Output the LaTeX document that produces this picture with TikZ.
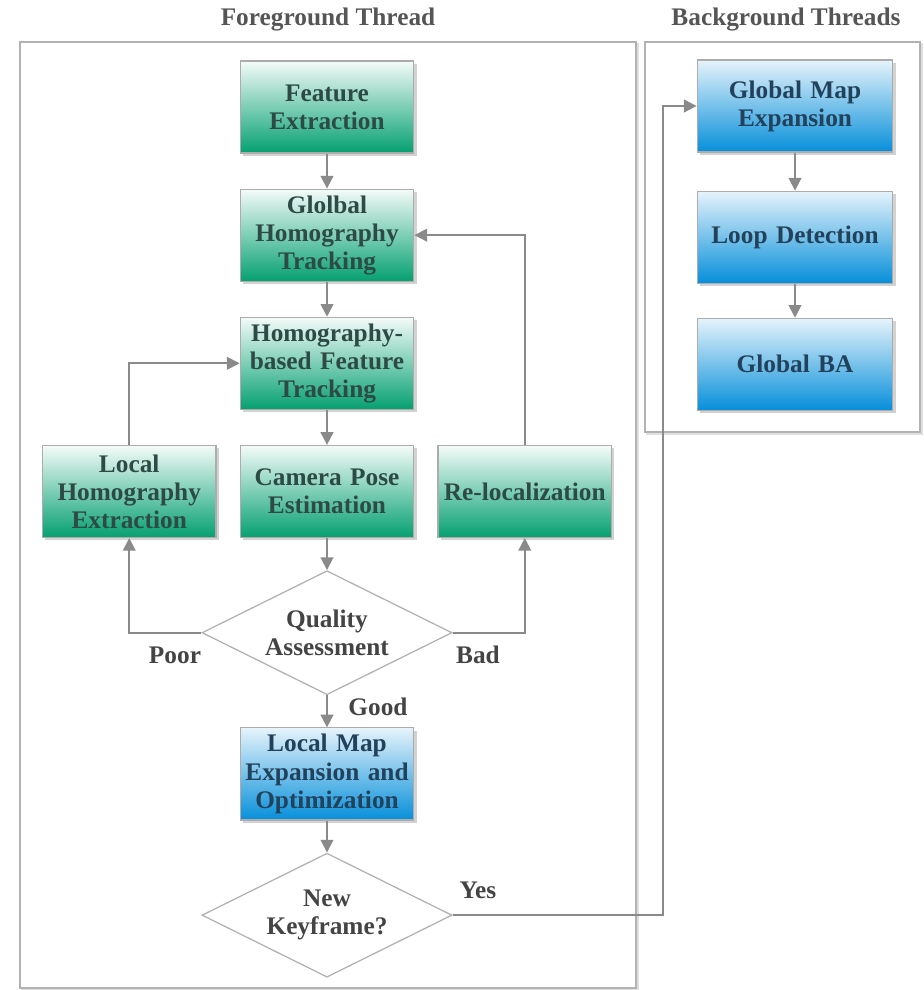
\documentclass[tikz,border=0pt]{standalone}
\usepackage{fontspec}
\setmainfont{Liberation Serif}
\usepackage{tikz}
\usetikzlibrary{positioning}
\usetikzlibrary{shapes.geometric}
\usetikzlibrary{arrows.meta}
\usetikzlibrary{shadows}

\definecolor{greentop}{HTML}{F4FBF9}
\definecolor{greenmid}{HTML}{5EC3A0}
\definecolor{greenbot}{HTML}{04A070}
\definecolor{greentext}{HTML}{2E4A45}
\definecolor{bluetop}{HTML}{E6F3FB}
\definecolor{bluemid}{HTML}{62BCEA}
\definecolor{bluebot}{HTML}{068FDA}
\definecolor{bluetext}{HTML}{22415A}
\definecolor{linegray}{HTML}{8A8A8A}
\definecolor{titlegray}{HTML}{555555}

\tikzset{
  stage/.style={draw=gray!65, line width=0.8pt, align=center,
    minimum height=2.3cm, inner xsep=0.12cm,
    font=\bfseries\fontsize{18}{20}\selectfont,
    drop shadow={opacity=0.35, shadow xshift=2pt, shadow yshift=-2pt}},
  greenbox/.style={stage, text width=4.1cm, top color=greentop,
    middle color=greenmid, bottom color=greenbot, text=greentext},
  bluebox/.style={stage, text width=4.1cm, top color=bluetop,
    middle color=bluemid, bottom color=bluebot, text=bluetext},
  check/.style={diamond, aspect=2, draw=gray!60, line width=0.9pt, fill=white,
    minimum width=6.25cm, minimum height=3.1cm, inner sep=0pt, align=center,
    text=titlegray!80!black, font=\bfseries\fontsize{18}{20}\selectfont},
  flow/.style={draw=linegray, line width=1.3pt, -{Triangle[width=9pt,length=9pt]}},
  tag/.style={text=titlegray!80!black, font=\bfseries\fontsize{18}{20}\selectfont},
  frame/.style={draw=gray!60, line width=1.1pt},
}

\begin{document}
\begin{tikzpicture}[x=0.025cm, y=-0.025cm]
\useasboundingbox (0,0) rectangle (924,990);
% thread frames
\draw[gray!25, line width=1.1pt] (22,44) rectangle (638,990);
\draw[frame, fill=white] (20,42) rectangle (636,988);
\draw[gray!25, line width=1.1pt] (647,44) rectangle (922,434);
\draw[frame, fill=white] (645,42) rectangle (920,432);
\node[tag, text=titlegray] (fgtitle) at (328,20) {Foreground Thread};
\node[tag, text=titlegray] (bgtitle) at (786,20) {Background Threads};
% foreground column
\node[greenbox] (feat) at (327,107) {Feature\\Extraction};
\node[greenbox, below=0.875cm of feat] (glob) {Glolbal\\Homography\\Tracking};
\node[greenbox, below=0.875cm of glob] (hfeat) {Homography-\\based Feature\\Tracking};
\node[greenbox, below=0.875cm of hfeat] (cam) {Camera Pose\\Estimation};
\node[greenbox, left=0.575cm of cam] (local) {Local\\Homography\\Extraction};
\node[greenbox, right=0.575cm of cam] (reloc) {Re-localization};
\node[check, below=0.8cm of cam] (qa) {Quality\\Assessment};
\node[bluebox, below=0.8cm of qa] (lmap) {Local Map\\Expansion and\\Optimization};
\node[check, below=0.8cm of lmap] (kf) {New\\Keyframe?};
% background column
\node[bluebox, text width=4.65cm] (gme) at (795,106) {Global Map\\Expansion};
\node[bluebox, text width=4.65cm, below=0.95cm of gme] (loop) {Loop Detection};
\node[bluebox, text width=4.65cm, below=0.85cm of loop] (gba) {Global BA};
% labels
\node[tag] (poor) at (175,655) {Poor};
\node[tag] (bad) at (478,655) {Bad};
\node[tag] (good) at (378,707) {Good};
\node[tag] (yes) at (478,890) {Yes};
\coordinate (yesbend) at (663,0);
% arrows
\draw[flow] (feat) -- (glob);
\draw[flow] (glob) -- (hfeat);
\draw[flow] (hfeat) -- (cam);
\draw[flow] (cam) -- (qa);
\draw[flow] (qa) -- (lmap);
\draw[flow] (lmap) -- (kf);
\draw[flow] (qa.west) -| (local);
\draw[flow] (qa.east) -| (reloc);
\draw[flow] (local) |- (hfeat);
\draw[flow] (reloc) |- (glob);
\draw[flow] (kf.east) -- (kf.east -| yesbend) |- (gme.west);
\draw[flow] (gme) -- (loop);
\draw[flow] (loop) -- (gba);
\end{tikzpicture}
\end{document}
